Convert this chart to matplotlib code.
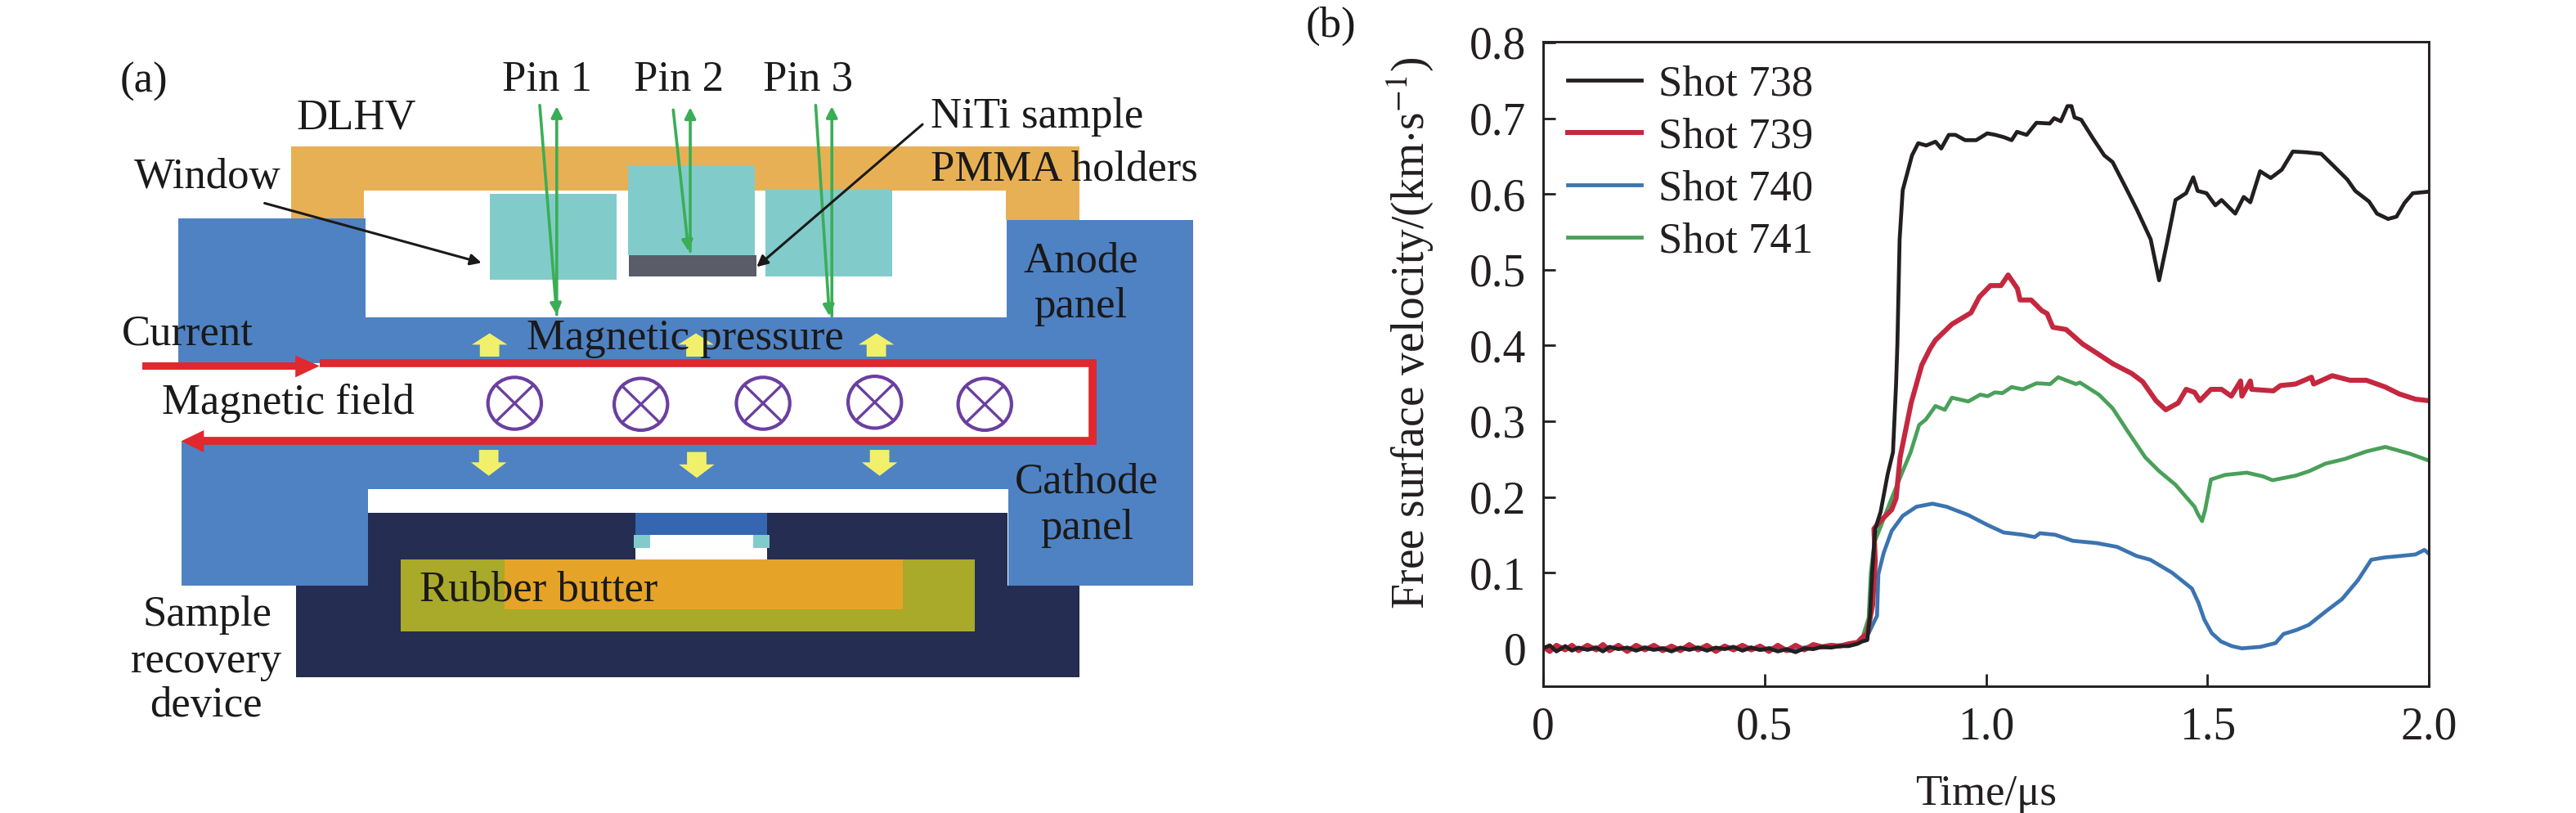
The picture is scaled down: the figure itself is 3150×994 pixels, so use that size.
import matplotlib
matplotlib.use("Agg")
import matplotlib.pyplot as plt
from matplotlib.patches import Polygon, Rectangle, Ellipse

plt.rcParams['font.family'] = ['Liberation Serif', 'DejaVu Serif']
plt.rcParams['mathtext.fontset'] = 'stix'

FS = 38
# ---------- data (panel b) ----------
base_t = [0, .015, .03, .05, .065, .08, .1, .12, .135, .15, .17, .19, .21, .23, .25, .27, .29, .31, .33, .35, .37, .39, .41, .43, .45, .47, .49, .51, .53, .55, .57, .59, .61, .63, .65, .67, .69, .71, .72]
base_black = [.000, .004, -.004, .003, -.003, .001, -.002, .001, -.004, .002, -.001, .001, -.003, .001, -.002, .000, -.004, .001, -.002, .001, -.003, .001, -.001, .002, -.003, .001, -.002, .000, -.004, -.001, -.005, .000, -.001, .002, .001, .003, .003, .006, .009]
base_red = [.002, -.004, .004, -.002, .004, -.003, .004, -.002, .005, -.003, .004, -.004, .004, -.002, .004, -.003, .003, -.003, .005, -.002, .004, -.004, .003, -.002, .004, -.002, .003, -.004, .004, -.003, .004, -.002, .005, .002, .004, .003, .006, .008, .014]
base_green = [.000, .001, -.001, .000, .001, -.001, .000, .001, -.002, .000, .001, -.001, .000, .001, -.001, .000, .001, -.001, .000, .001, -.001, .000, .001, -.001, .000, .001, -.002, .000, .001, -.003, -.003, .001, .003, .001, .002, .004, .004, .007, .012]

t738 = base_t + [.732, .738, .743, .75, .762, .778, .79, .797, .80, .805, .812, .833, .847, .865, .886, .899, .916, .931, .953, .978, 1.003, 1.021, 1.04, 1.058, 1.07, 1.092, 1.114, 1.144, 1.154, 1.169, 1.184, 1.193, 1.2, 1.215, 1.242, 1.267, 1.286, 1.316, 1.341, 1.372, 1.391, 1.409, 1.428, 1.452, 1.468, 1.478, 1.498, 1.518, 1.532, 1.563, 1.582, 1.597, 1.619, 1.643, 1.668, 1.693, 1.723, 1.757, 1.785, 1.816, 1.834, 1.865, 1.883, 1.908, 1.927, 1.945, 1.964, 2.0]
v738 = base_black + [.011, .043, .10, .158, .18, .23, .259, .349, .403, .54, .605, .651, .667, .664, .669, .660, .678, .678, .671, .671, .680, .678, .675, .671, .682, .678, .694, .693, .700, .696, .716, .716, .701, .698, .673, .651, .642, .608, .579, .540, .486, .536, .592, .601, .622, .604, .601, .585, .592, .574, .596, .589, .630, .621, .632, .656, .655, .653, .637, .619, .604, .590, .574, .567, .570, .588, .601, .603]

t739 = base_t + [.732, .744, .750, .747, .763, .787, .797, .806, .831, .855, .874, .886, .923, .966, .985, 1.01, 1.034, 1.05, 1.071, 1.077, 1.102, 1.126, 1.138, 1.151, 1.181, 1.218, 1.255, 1.286, 1.329, 1.354, 1.384, 1.406, 1.434, 1.452, 1.471, 1.483, 1.508, 1.532, 1.554, 1.575, 1.578, 1.597, 1.60, 1.649, 1.665, 1.699, 1.735, 1.74, 1.782, 1.822, 1.859, 1.902, 1.933, 1.97, 2.0]
v739 = base_red + [.02, .057, .115, .158, .169, .183, .198, .252, .324, .374, .396, .407, .428, .443, .464, .479, .479, .493, .475, .46, .46, .446, .442, .424, .421, .402, .388, .376, .363, .352, .327, .315, .324, .342, .338, .327, .342, .342, .333, .353, .333, .353, .342, .34, .347, .349, .358, .349, .36, .354, .354, .345, .336, .329, .327]

t740 = base_t + [.735, .754, .757, .769, .787, .812, .843, .879, .911, .96, 1.003, 1.04, 1.083, 1.11, 1.122, 1.156, 1.196, 1.25, 1.296, 1.34, 1.371, 1.42, 1.465, 1.48, 1.493, 1.51, 1.531, 1.555, 1.578, 1.62, 1.654, 1.672, 1.70, 1.729, 1.77, 1.804, 1.84, 1.87, 1.90, 1.936, 1.97, 1.99, 2.0]
v740 = base_green + [.02, .043, .098, .126, .155, .175, .187, .191, .187, .176, .163, .153, .15, .147, .152, .15, .142, .139, .134, .122, .117, .10, .079, .06, .038, .02, .009, .003, .0, .002, .007, .019, .024, .031, .05, .065, .09, .117, .12, .122, .124, .13, .125]

t741 = base_t + [.735, .74, .748, .765, .787, .812, .83, .849, .864, .886, .907, .923, .96, .987, 1.004, 1.02, 1.037, 1.058, 1.083, 1.114, 1.145, 1.163, 1.203, 1.212, 1.255, 1.286, 1.323, 1.36, 1.391, 1.428, 1.471, 1.478, 1.488, 1.495, 1.508, 1.54, 1.589, 1.626, 1.647, 1.699, 1.73, 1.767, 1.81, 1.859, 1.902, 1.957, 2.0]
v741 = base_green + [.04, .10, .14, .165, .198, .234, .259, .295, .302, .32, .315, .331, .326, .335, .333, .338, .337, .345, .342, .35, .349, .358, .349, .351, .335, .317, .284, .252, .234, .216, .187, .178, .168, .183, .223, .229, .232, .227, .222, .228, .234, .244, .25, .26, .266, .257, .248]

shots = ['Shot 738', 'Shot 739', 'Shot 740', 'Shot 741']
x_ticks = [0, .5, 1, 1.5, 2]
x_labels = ['0', '0.5', '1.0', '1.5', '2.0']
y_ticks = [0, .1, .2, .3, .4, .5, .6, .7, .8]
y_labels = ['0', '0.1', '0.2', '0.3', '0.4', '0.5', '0.6', '0.7', '0.8']

W, H = 3150, 994
fig = plt.figure(figsize=(W/100, H/100), dpi=100)

# ---------- panel (b) ----------
ax = fig.add_axes([1887/W, 1-839/H, (2970-1887)/W, (839-51)/H])
BLACK, RED, BLUE, GREEN = '#231F20', '#C4283F', '#3B74B0', '#4AA05A'
l741, = ax.plot(t741, v741, color=GREEN, lw=3.4, solid_joinstyle='round')
l740, = ax.plot(t740, v740, color=BLUE, lw=3.4, solid_joinstyle='round')
l739, = ax.plot(t739, v739, color=RED, lw=4.4, solid_joinstyle='round')
l738, = ax.plot(t738, v738, color=BLACK, lw=3.4, solid_joinstyle='round')
ax.set_xlim(0, 2)
ax.set_ylim(-.05, .801)
ax.set_xticks(x_ticks, x_labels, fontsize=40)
ax.set_yticks(y_ticks, y_labels, fontsize=40)
ax.tick_params(direction='in', length=11, width=2, pad=15, color=BLACK, labelcolor=BLACK)
ax.tick_params(axis='x', pad=18)
for s in ax.spines.values():
    s.set_linewidth(2.1)
    s.set_color(BLACK)
ax.set_xlabel('Time/μs', fontsize=FS, color=BLACK, labelpad=22)
ax.set_ylabel(r'Free surface velocity/(km$\cdot$s$^{-1}$)', fontsize=40, color=BLACK, labelpad=30, y=.548)
ax.legend([l738, l739, l740, l741], shots, loc='upper left', bbox_to_anchor=(-0.004, 1.007), frameon=False,
          fontsize=FS, handlelength=1.7, handletextpad=.4, labelspacing=.3, borderaxespad=.35, borderpad=0.3,
          labelcolor=BLACK)

# ---------- panel (a), drawn in zoom-coordinates of the schematic ----------
d = fig.add_axes([0, 0, 1, 1], zorder=5)
d.set_xlim(0, W*1.0106)
d.set_ylim(H*1.578, 0)
d.axis('off')
d.patch.set_alpha(0)

def rect(x0, x1, y0, y1, c):
    d.add_patch(Rectangle((x0, y0), x1-x0, y1-y0, fc=c, ec='none'))

def poly(pts, c):
    d.add_patch(Polygon(pts, closed=True, fc=c, ec='none'))

poly([(360, 282), (1334, 282), (1334, 425), (1243, 425), (1243, 368), (450, 368), (450, 425), (360, 425)], '#E8B055')
poly([(220, 422), (452, 422), (452, 612), (1244, 612), (1244, 425), (1474, 425), (1474, 1130), (1246, 1130),
      (1246, 943), (455, 943), (455, 1130), (224, 1130), (224, 850), (1350, 850), (1350, 700), (220, 700)], '#4F82C3')
poly([(366, 1130), (455, 1130), (455, 990), (1245, 990), (1245, 1130), (1334, 1130), (1334, 1306), (366, 1306)], '#252D52')
rect(495, 1205, 1080, 1218, '#A9A92A')
rect(624, 1116, 1080, 1175, '#E5A427')
rect(785, 948, 990, 1032, '#3566B0')
rect(785, 948, 1032, 1080, 'white')
rect(783, 803, 1032, 1058, '#82CBCB')
rect(931, 951, 1032, 1058, '#82CBCB')
for x0, x1, y0, y1 in [(605, 762, 374, 540), (776, 933, 321, 493), (946, 1103, 365, 533)]:
    rect(x0, x1, y0, y1, '#82CBCB')
rect(777, 935, 493, 533, '#5A5D68')

# yellow pressure arrows
YEL = '#F2F06A'
for cx in [605, 860, 1083]:
    poly([(cx-12, 688), (cx-12, 665), (cx-22, 665), (cx, 643), (cx+22, 665), (cx+12, 665), (cx+12, 688)], YEL)
for cx, ty in [(604, 868), (861, 872), (1087, 868)]:
    poly([(cx-12, ty), (cx-12, ty+24), (cx-22, ty+24), (cx, ty+50), (cx+22, ty+24), (cx+12, ty+24), (cx+12, ty)], YEL)

# red current path
CUR = '#E0282E'
rect(176, 368, 699, 713, CUR)
poly([(365, 686), (395, 706), (365, 728)], CUR)
d.plot([395, 1350, 1350, 250], [700, 700, 850, 850], color=CUR, lw=7, solid_joinstyle='miter', solid_capstyle='butt')
poly([(252, 830), (224, 851), (252, 873)], CUR)

# magnetic field symbols
PUR = '#6B3FA0'
for cx, cy in [(636, 778), (792, 780), (943, 778), (1081, 776), (1217, 780)]:
    d.add_patch(Ellipse((cx, cy), 66, 100, fc='none', ec=PUR, lw=3))
    d.plot([cx-23, cx+23], [cy-35, cy+35], color=PUR, lw=2.4)
    d.plot([cx-23, cx+23], [cy+35, cy-35], color=PUR, lw=2.4)

# laser pins
PIN = '#3AAE55'
def arrow(a, b, c, lw, ms=16):
    d.annotate('', xy=b, xytext=a, arrowprops=dict(arrowstyle='-|>', color=c, lw=lw, mutation_scale=ms, shrinkA=0, shrinkB=0))
for a, b in [((667, 203), (688, 607)), ((688, 607), (688, 205)), ((832, 212), (851, 485)), ((853, 485), (853, 207)),
             ((1008, 203), (1025, 610)), ((1028, 610), (1028, 205))]:
    arrow(a, b, PIN, 2.6, 20)
arrow((327, 392), (595, 507), '#1A1A1A', 2.2, 20)
arrow((1140, 240), (935, 515), '#1A1A1A', 2.2, 20)

labels = [('(a)', 178, 152, 'center'), ('Pin 1', 676, 148, 'center'), ('Pin 2', 839, 148, 'center'), ('Pin 3', 998, 148, 'center'),
          ('DLHV', 440, 222, 'center'), ('NiTi sample', 1150, 220, 'left'), ('PMMA holders', 1150, 322, 'left'),
          ('Window', 256, 337, 'center'), ('Anode', 1336, 498, 'center'), ('panel', 1335, 585, 'center'),
          ('Current', 232, 638, 'center'), ('Magnetic pressure', 847, 648, 'center'), ('Magnetic field', 356, 772, 'center'),
          ('Cathode', 1343, 925, 'center'), ('panel', 1343, 1013, 'center'), ('Rubber butter', 666, 1133, 'center'),
          ('Sample', 256, 1180, 'center'), ('recovery', 255, 1270, 'center'), ('device', 255, 1356, 'center')]
for s, x, y, ha in labels:
    d.text(x, y+6, s, fontsize=FS, ha=ha, va='center', color='#1A1A1A')

fig.text(1627/W, 1-32/H, '(b)', fontsize=FS, ha='center', va='center', color='#1A1A1A')

fig.savefig('out.png', dpi=100)
